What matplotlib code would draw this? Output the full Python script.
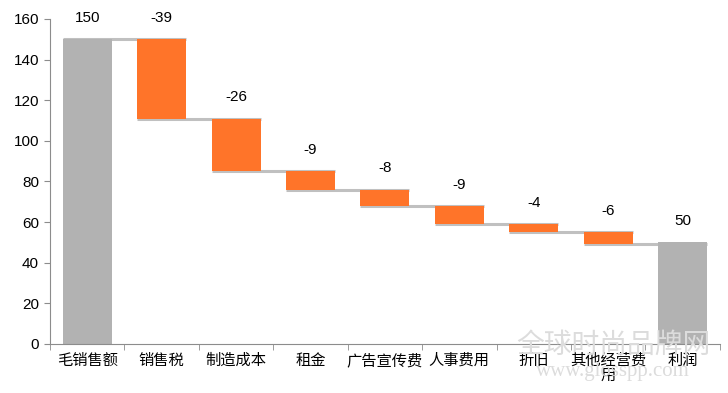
import numpy as np
import matplotlib.pyplot as plt

plt.rcParams['font.family'] = ['Liberation Sans', 'Noto Sans CJK SC', 'DejaVu Sans']

# waterfall data
categories = ['毛销售额', '销售税', '制造成本', '租金', '广告宣传费', '人事费用', '折旧', '其他经营费\n用', '利润']
changes = [150, -39, -26, -9, -8, -9, -4, -6, 50]
is_total = [True, False, False, False, False, False, False, False, True]

gray = '#b2b2b2'
orange = '#ff7429'
axis_col = '#8c8c8c'

fig = plt.figure(figsize=(7.28, 3.93), dpi=100)
ax = fig.add_axes([0.0687, 0.1247, 0.92, 0.827])

x = np.arange(len(categories))
width = 0.66
level = 0
bottoms, tops = [], []
for i, v in enumerate(changes):
    if is_total[i]:
        b, t = 0, v
        level = v
    else:
        b, t = level + v, level
        level = level + v
    bottoms.append(b)
    tops.append(t)
    ax.bar(x[i], t - b, bottom=b, width=width, color=gray if is_total[i] else orange, zorder=2)
    ax.text(x[i], max(b, t) + 7, str(v), ha='center', va='bottom', fontsize=11)

# connector lines (behind the bars, half of the line shows)
for i in range(len(changes) - 1):
    lvl = bottoms[i] if not is_total[i] else tops[i]
    ax.hlines(lvl, x[i] - width / 2, x[i + 1] + width / 2, color='#c0c0c0', lw=2.2, zorder=1)

ax.set_xlim(-0.5, len(categories) - 0.5)
ax.set_ylim(0, 160)
ax.set_yticks(range(0, 161, 20))
ax.set_xticks(x)
ax.set_xticklabels(categories, fontsize=11, linespacing=1.05)
ax.set_xticks(np.arange(-0.5, len(categories), 1), minor=True)
ax.tick_params(axis='x', which='major', length=0, pad=7)
ax.tick_params(axis='x', which='minor', length=4, color=axis_col, direction='out')
ax.tick_params(axis='y', length=4, color=axis_col, labelsize=11, pad=4)

for s in ['top', 'right']:
    ax.spines[s].set_visible(False)
for s in ['left', 'bottom']:
    ax.spines[s].set_color(axis_col)

# watermark
fig.text(0.842, 0.12, '全球时尚品牌网', fontsize=20, color='#dcdcdc', ha='center', va='center', zorder=0)
fig.text(0.842, 0.055, 'www.glosspp.com', fontsize=15, color='#dcdcdc', ha='center', va='center',
         family='Liberation Serif', zorder=0)

fig.savefig('out.png', dpi=100)
